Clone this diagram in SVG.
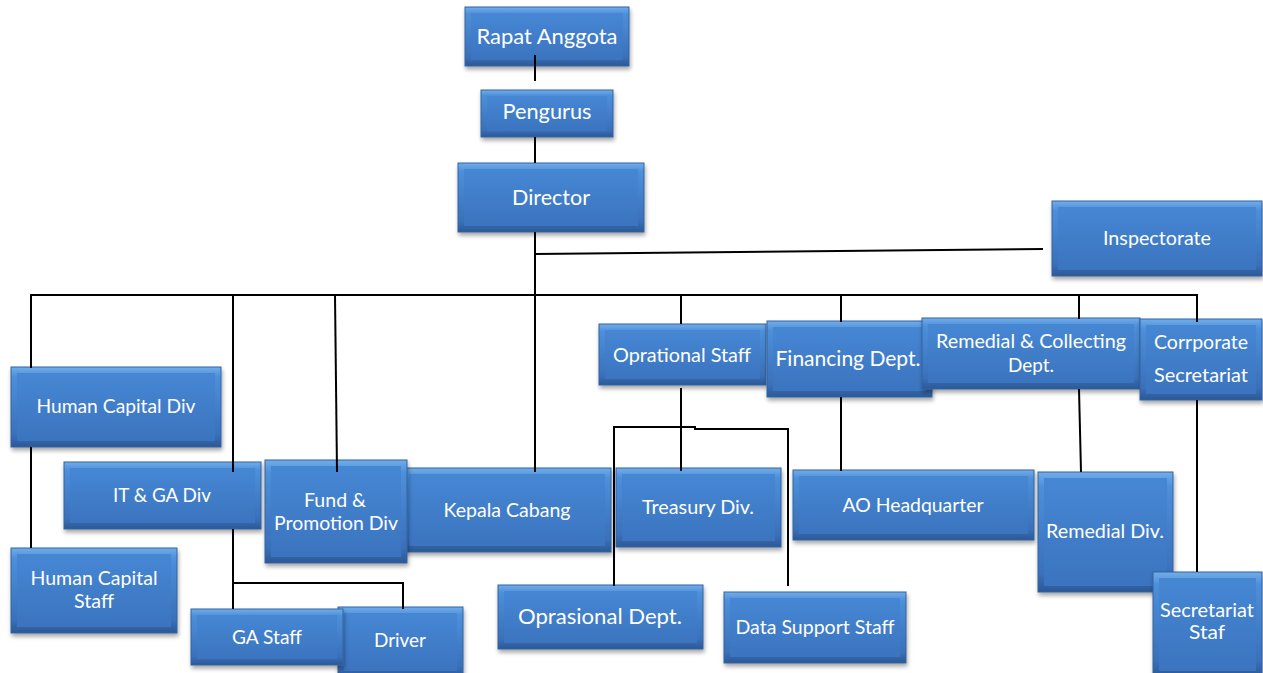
<svg xmlns="http://www.w3.org/2000/svg" width="1263" height="673" viewBox="0 0 1263 673">
<defs>
<linearGradient id="gOuter" x1="0" y1="0" x2="0" y2="1">
<stop offset="0" stop-color="#72ade9"/>
<stop offset="0.12" stop-color="#4d8fda"/>
<stop offset="0.85" stop-color="#3a70ba"/>
<stop offset="1" stop-color="#2b5894"/>
</linearGradient>
<linearGradient id="gFace" x1="0" y1="0" x2="0" y2="1">
<stop offset="0" stop-color="#4687d4"/>
<stop offset="1" stop-color="#3b74bf"/>
</linearGradient>
<filter id="sh" x="-10%" y="-10%" width="125%" height="140%">
<feDropShadow dx="1" dy="3" stdDeviation="2" flood-color="#000" flood-opacity="0.35"/>
</filter>
</defs>
<style>
.outer{fill:url(#gOuter);stroke:#34639f;stroke-width:1;filter:url(#sh)}
.inner{fill:url(#gFace)}
text{font-family:Lato,"Open Sans","Liberation Sans",sans-serif;fill:#ffffff;text-anchor:middle;font-size:19px}
.big{font-size:21px}
.conn line,.conn polyline{stroke:#000;stroke-width:2;fill:none}
</style>
<rect width="1263" height="673" fill="#ffffff"/>

<g id="n-rapat"><rect class="outer" x="465" y="7" width="164" height="59"/><rect class="inner" x="471" y="13" width="152" height="47"/><text class="big" x="547" y="44" textLength="141" lengthAdjust="spacingAndGlyphs">Rapat Anggota</text></g>
<g id="n-pengurus"><rect class="outer" x="481" y="90" width="132" height="47"/><rect class="inner" x="487" y="96" width="120" height="35"/><text class="big" x="547" y="119" textLength="89" lengthAdjust="spacingAndGlyphs">Pengurus</text></g>
<g id="n-director"><rect class="outer" x="458" y="163" width="186" height="69"/><rect class="inner" x="464" y="169" width="174" height="57"/><text class="big" x="551" y="205" textLength="78" lengthAdjust="spacingAndGlyphs">Director</text></g>
<g id="n-inspectorate"><rect class="outer" x="1052" y="201" width="210" height="75"/><rect class="inner" x="1058" y="207" width="198" height="63"/><text x="1157" y="245" textLength="108" lengthAdjust="spacingAndGlyphs">Inspectorate</text></g>

<g id="n-hcdiv"><rect class="outer" x="11" y="367" width="210" height="80"/><rect class="inner" x="17" y="373" width="198" height="68"/><text x="116" y="413" textLength="159" lengthAdjust="spacingAndGlyphs">Human Capital Div</text></g>
<g id="n-itga"><rect class="outer" x="64" y="462" width="197" height="67"/><rect class="inner" x="70" y="468" width="185" height="55"/><text x="162" y="502" textLength="98" lengthAdjust="spacingAndGlyphs">IT &amp; GA Div</text></g>
<g id="n-kepala"><rect class="outer" x="403" y="468" width="208" height="84"/><rect class="inner" x="409" y="474" width="196" height="72"/><text x="507" y="517" textLength="127" lengthAdjust="spacingAndGlyphs">Kepala Cabang</text></g>
<g id="n-fund"><rect class="outer" x="265" y="460" width="142" height="103"/><rect class="inner" x="271" y="466" width="130" height="91"/><text x="335" y="507" textLength="62" lengthAdjust="spacingAndGlyphs">Fund &amp;</text><text x="336" y="530" textLength="124" lengthAdjust="spacingAndGlyphs">Promotion Div</text></g>
<g id="n-hcstaff"><rect class="outer" x="11" y="548" width="166" height="85"/><rect class="inner" x="17" y="554" width="154" height="73"/><text x="94" y="585" textLength="127" lengthAdjust="spacingAndGlyphs">Human Capital</text><text x="94" y="608" textLength="40" lengthAdjust="spacingAndGlyphs">Staff</text></g>
<g id="n-driver"><rect class="outer" x="338" y="607" width="125" height="70"/><rect class="inner" x="344" y="613" width="113" height="58"/><text x="400" y="647" textLength="52" lengthAdjust="spacingAndGlyphs">Driver</text></g>
<g id="n-gastaff"><rect class="outer" x="191" y="609" width="152" height="56"/><rect class="inner" x="197" y="615" width="140" height="44"/><text x="267" y="644" textLength="70" lengthAdjust="spacingAndGlyphs">GA Staff</text></g>

<g id="n-oprstaff"><rect class="outer" x="599" y="324" width="167" height="61"/><rect class="inner" x="605" y="330" width="155" height="49"/><text x="682" y="362" textLength="138" lengthAdjust="spacingAndGlyphs">Oprational Staff</text></g>
<g id="n-financing"><rect class="outer" x="767" y="321" width="165" height="76"/><rect class="inner" x="773" y="327" width="153" height="64"/><text class="big" x="848" y="366" textLength="145" lengthAdjust="spacingAndGlyphs">Financing Dept.</text></g>
<g id="n-remcoll"><rect class="outer" x="922" y="318" width="218" height="71"/><rect class="inner" x="928" y="324" width="206" height="59"/><text x="1031" y="348" textLength="190" lengthAdjust="spacingAndGlyphs">Remedial &amp; Collecting</text><text x="1031" y="372" textLength="46" lengthAdjust="spacingAndGlyphs">Dept.</text></g>
<g id="n-corpsec"><rect class="outer" x="1140" y="319" width="122" height="81"/><rect class="inner" x="1146" y="325" width="110" height="69"/><text x="1201" y="349" textLength="94" lengthAdjust="spacingAndGlyphs">Corrporate</text><text x="1201" y="382" textLength="94" lengthAdjust="spacingAndGlyphs">Secretariat</text></g>

<g id="n-treasury"><rect class="outer" x="616" y="468" width="165" height="79"/><rect class="inner" x="622" y="474" width="153" height="67"/><text x="698" y="514" textLength="112" lengthAdjust="spacingAndGlyphs">Treasury Div.</text></g>
<g id="n-oprdept"><rect class="outer" x="498" y="585" width="205" height="64"/><rect class="inner" x="504" y="591" width="193" height="52"/><text class="big" x="600" y="624" textLength="164" lengthAdjust="spacingAndGlyphs">Oprasional Dept.</text></g>
<g id="n-datasupport"><rect class="outer" x="724" y="592" width="182" height="71"/><rect class="inner" x="730" y="598" width="170" height="59"/><text x="815" y="634" textLength="159" lengthAdjust="spacingAndGlyphs">Data Support Staff</text></g>
<g id="n-ao"><rect class="outer" x="793" y="470" width="241" height="70"/><rect class="inner" x="799" y="476" width="229" height="58"/><text x="913" y="512" textLength="141" lengthAdjust="spacingAndGlyphs">AO Headquarter</text></g>
<g id="n-remdiv"><rect class="outer" x="1038" y="472" width="135" height="120"/><rect class="inner" x="1044" y="478" width="123" height="108"/><text x="1105" y="538" textLength="118" lengthAdjust="spacingAndGlyphs">Remedial Div.</text></g>
<g id="n-secstaf"><rect class="outer" x="1153" y="572" width="109" height="105"/><rect class="inner" x="1159" y="578" width="97" height="93"/><text x="1207" y="617" textLength="94" lengthAdjust="spacingAndGlyphs">Secretariat</text><text x="1207" y="639" textLength="36" lengthAdjust="spacingAndGlyphs">Staf</text></g>

<g id="connectors" class="conn">
<line x1="535" y1="55" x2="535" y2="81"/>
<line x1="535" y1="137" x2="535" y2="163"/>
<line x1="535" y1="232" x2="535" y2="472"/>
<line x1="535" y1="254" x2="1043" y2="249"/>
<polyline points="31,368 31,295 1197,295 1197,322"/>
<line x1="233" y1="295" x2="233" y2="472"/>
<line x1="335" y1="295" x2="337" y2="472"/>
<line x1="681" y1="295" x2="681" y2="324"/>
<line x1="841" y1="295" x2="841" y2="322"/>
<line x1="1079" y1="295" x2="1079" y2="319"/>
<line x1="31" y1="447" x2="31" y2="548"/>
<line x1="233" y1="529" x2="233" y2="609"/>
<polyline points="233,583 403,583 403,609"/>
<line x1="681" y1="388" x2="681" y2="471"/>
<polyline points="614,586 614,427 695,427 695,429 788,429 788,586"/>
<line x1="841" y1="397" x2="841" y2="471"/>
<line x1="1079" y1="389" x2="1081" y2="472"/>
<line x1="1197" y1="400" x2="1197" y2="572"/>
</g>
</svg>
